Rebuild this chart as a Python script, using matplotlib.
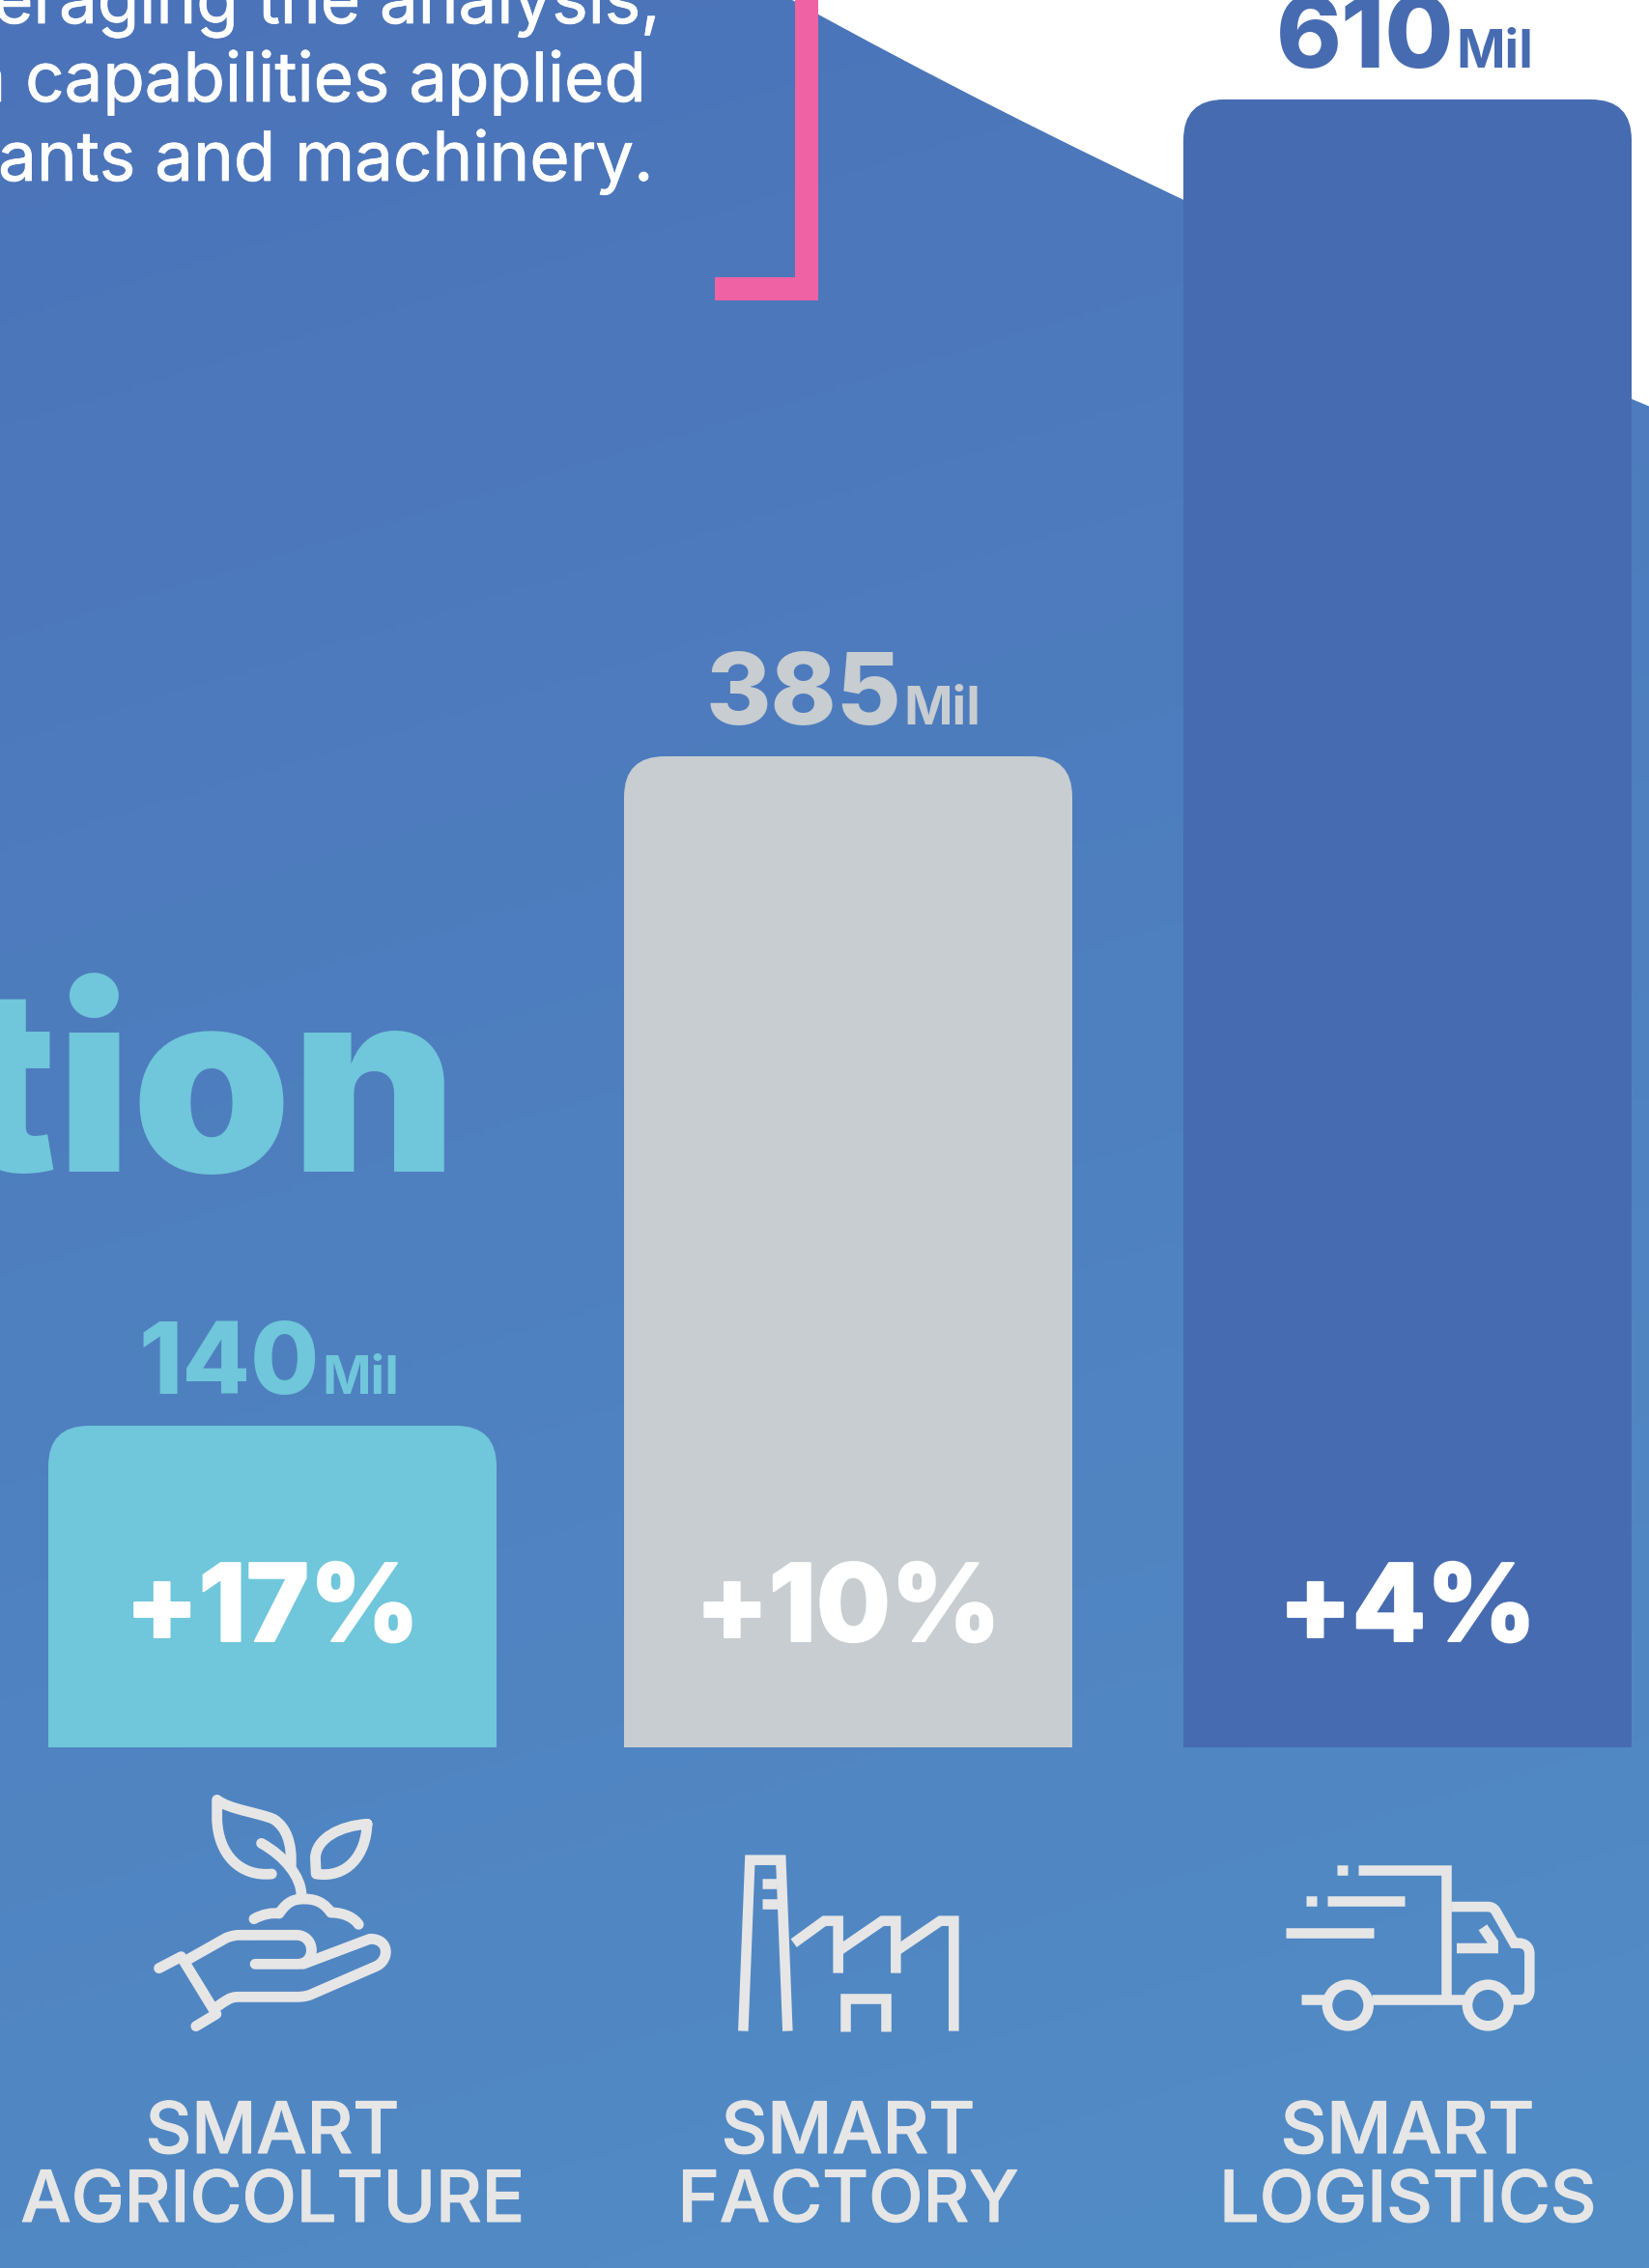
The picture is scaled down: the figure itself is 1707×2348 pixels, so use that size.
import matplotlib
matplotlib.use("Agg")
import matplotlib.pyplot as plt
import matplotlib.patheffects as pe
import numpy as np
from matplotlib.patches import Circle, FancyBboxPatch, PathPatch, Rectangle
from matplotlib.path import Path

# values as printed on the infographic
categories = [["SMART", "AGRICOLTURE"], ["SMART", "FACTORY"], ["SMART", "LOGISTICS"]]
revenue_mil = [140, 385, 610]
growth = ["+17%", "+10%", "+4%"]
# the drawn bars are not to scale with the printed values, heights read off the picture
bar_heights = [333, 1026, 1706]

W, H = 1708, 2348
BASE = H - 1809
FONT = "Inter"
ICON = "#E6E6E6"
bar_colors = ["#70C6DA", "#C7CDD0", "#476BB0"]
label_colors = ["#70C6DA", "#C7CDD0", "#476BB0"]
bar_x = [282, 878, 1457]
split_x = [333, 935, 1507]
BAR_W = 464
RADIUS = 42


def Y(py):
    return H - py


def heavy(width, color):
    # no Montserrat here, thicken the strokes a bit instead
    return [pe.withStroke(linewidth=width, foreground=color)]


def curve_path(parts):
    """parts: first a start point, then (x,y) for a line or 3 points for a bezier"""
    verts, codes = [parts[0]], [Path.MOVETO]
    for p in parts[1:]:
        if isinstance(p[0], tuple):
            verts += list(p)
            codes += [Path.CURVE4] * 3
        else:
            verts.append(p)
            codes.append(Path.LINETO)
    return verts, codes


def draw_icon(ax, strokes, x0, y0, sx, sy, lw, cap="round", join="round"):
    for stroke in strokes:
        verts, codes = curve_path(stroke)
        verts = [(x0 + x / sx, Y(y0 + y / sy)) for x, y in verts]
        ax.add_patch(PathPatch(Path(verts, codes), fc="none", ec=ICON, lw=lw,
                               capstyle=cap, joinstyle=join, zorder=4))


def background(ax):
    yy, xx = np.mgrid[0:H:400j, 0:W:300j]
    t = np.clip((yy + 0.3 * xx) / (H + 0.3 * W), 0, 1)
    top = np.array([75, 115, 185]) / 255
    bottom = np.array([82, 141, 198]) / 255
    img = top[None, None, :] + t[:, :, None] * (bottom - top)[None, None, :]
    im = ax.imshow(img, extent=(0, W, 0, H), origin="upper", aspect="auto", zorder=1)
    ax.set_xlim(0, W)
    ax.set_ylim(0, H)
    verts = [(0, Y(0)), (820, Y(0)), (1100, Y(155)), (1400, Y(292)), (1708, Y(421)),
             (1708, Y(2348)), (0, Y(2348)), (0, Y(0))]
    codes = [Path.MOVETO, Path.LINETO, Path.CURVE4, Path.CURVE4, Path.CURVE4,
             Path.LINETO, Path.LINETO, Path.CLOSEPOLY]
    im.set_clip_path(PathPatch(Path(verts, codes), transform=ax.transData))


def main():
    fig = plt.figure(figsize=(W / 100, H / 100), dpi=100)
    ax = fig.add_axes([0, 0, 1, 1])
    ax.axis("off")
    background(ax)

    # pink bracket
    ax.add_patch(Rectangle((823, Y(311)), 24, 311, fc="#EF62A3", ec="none", zorder=3))
    ax.add_patch(Rectangle((740, Y(311)), 107, 24, fc="#EF62A3", ec="none", zorder=3))

    # cut off intro text
    for txt, x, py in [("eraging the analysis,", 684, 24), ("n capabilities applied", 669, 105),
                       ("ants and machinery.", 677, 187)]:
        ax.text(x, Y(py), txt, ha="right", va="baseline", color="white", family=FONT,
                fontsize=51, zorder=5, path_effects=heavy(0.6, "white"))

    ax.text(473, Y(1213), "tion", ha="right", va="baseline", color="#70C6DA", family=FONT,
            fontsize=190, fontweight=900, zorder=5)

    # bars with round top corners
    bars = ax.bar(bar_x, bar_heights, width=BAR_W, bottom=BASE, color=bar_colors, zorder=2)
    for rect in bars:
        x, y = rect.get_x(), rect.get_y()
        clip = FancyBboxPatch((x + RADIUS, y - 100), rect.get_width() - 2 * RADIUS,
                              rect.get_height() + 100 - RADIUS,
                              boxstyle="round,pad=%d,rounding_size=%d" % (RADIUS, RADIUS),
                              transform=ax.transData)
        rect.set_clip_path(clip)

    for i, rect in enumerate(bars):
        top = rect.get_y() + rect.get_height()
        ax.text(split_x[i] - 2, top + 33, str(revenue_mil[i]), ha="right", va="baseline",
                color=label_colors[i], family=FONT, fontsize=74, fontweight=800, zorder=5)
        ax.text(split_x[i], top + 33, "Mil", ha="left", va="baseline",
                color=label_colors[i], family=FONT, fontsize=39, fontweight=700, zorder=5)
        ax.text(bar_x[i], Y(1699), growth[i], ha="center", va="baseline",
                color="white", family=FONT, fontsize=80, fontweight=800, zorder=5,
                path_effects=heavy(1.5, "white"))
        for name, py in zip(categories[i], (2229, 2300)):
            ax.text(bar_x[i], Y(py), name, ha="center", va="baseline", color=ICON,
                    family=FONT, fontsize=53, fontweight="medium", zorder=5,
                    path_effects=heavy(0.8, ICON))

    # plant in hand
    plant = [
        [(735, 480), ((650, 490), (590, 420), (587, 310)), (587, 250),
         ((620, 280), (700, 290), (740, 310)), ((775, 335), (790, 385), (787, 455))],
        [(707, 385), ((770, 425), (815, 490), (815, 545))],
        [(993, 325), ((920, 330), (855, 370), (853, 430)), (855, 480),
         ((940, 495), (990, 420), (993, 325))],
        [(687, 620), ((710, 605), (735, 600), (755, 603)), ((780, 560), (800, 558), (825, 558)),
         ((860, 558), (880, 575), (895, 600)), ((935, 600), (960, 620), (970, 637))],
        [(505, 748), (610, 680), ((625, 672), (640, 670), (645, 670)), (805, 670),
         ((855, 675), (855, 760), (805, 760)), (690, 760)],
        [(820, 760), (1000, 682), ((1055, 680), (1055, 750), (1015, 768)), (840, 855),
         ((825, 862), (810, 862), (800, 862)), (645, 862), ((620, 862), (610, 875), (590, 890))],
        [(430, 773), (490, 737), (585, 915), (530, 953)],
    ]
    draw_icon(ax, plant, 0, 1780, 2.613, 3, 7.8)

    # factory
    factory = [
        [(208, 758), (229, 227), (325, 227), (346, 758)],
        [(266, 300), (312, 300)],
        [(266, 364), (316, 364)],
        [(365, 485), (460, 416), (503, 416), (503, 578)],
        [(503, 510), (640, 416), (682, 416), (682, 578)],
        [(682, 510), (820, 416), (862, 416), (862, 758)],
        [(524, 758), (524, 658), (651, 658), (651, 758)],
    ]
    draw_icon(ax, factory, 700, 1850, 3, 3, 7.6, cap="butt", join="miter")

    # truck
    truck = [
        [(378, 169), (652, 169), (652, 570)],
        [(313, 169), (346, 169)],
        [(217, 265), (250, 265)],
        [(281, 265), (523, 265)],
        [(153, 362), (426, 362)],
        [(201, 571), (275, 571)],
        [(420, 571), (708, 571)],
        [(855, 571), (880, 571), ((900, 571), (910, 560), (910, 540)), (910, 430),
         ((910, 405), (895, 395), (875, 395)), (862, 395), (805, 295),
         ((798, 285), (790, 282), (780, 282)), (667, 282)],
        [(684, 411), (797, 411), (797, 393), (765, 346)],
    ]
    draw_icon(ax, truck, 1280, 1880, 3, 3, 7.6, cap="butt", join="miter")
    for cx in (346, 781):
        ax.add_patch(Circle((1280 + cx / 3, Y(1880 + 588 / 3)), 64 / 3, fc="none", ec=ICON,
                            lw=7.6, zorder=4))

    fig.savefig("out.png", dpi=100)


if __name__ == "__main__":
    main()
